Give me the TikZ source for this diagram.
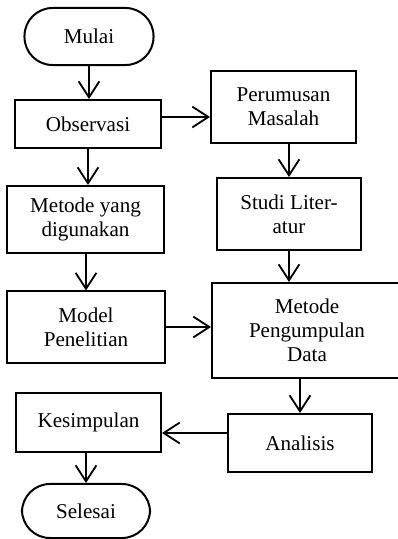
\documentclass[tikz,border=0pt]{standalone}
\usepackage{fontspec}
\setmainfont{Liberation Serif}
\usetikzlibrary{arrows.meta}

\begin{document}
\begin{tikzpicture}[x=0.025cm, y=-0.025cm, line width=0.05cm,
  >={Straight Barb[length=0.4cm,width=0.52cm,line width=1.3pt]},
  box/.style={draw, rectangle, inner sep=0pt, align=center,
    font=\fontsize{15}{17}\selectfont},
  term/.style={box, rounded corners=0.7cm}]

\clip (0,0) rectangle (398,539);

\node[term, minimum width=3.225cm, minimum height=1.425cm] (mulai) at (89,36.5) {Mulai};
\node[box, minimum width=3.625cm, minimum height=1.2cm] (obs) at (88,124) {Observasi};
\node[box, minimum width=3.625cm, minimum height=1.8cm] (rumus) at (283.5,107) {Perumusan\\Masalah};
\node[box, minimum width=3.6cm, minimum height=1.8cm] (studi) at (289,214) {Studi Liter-\\atur};
\node[box, minimum width=3.925cm, minimum height=1.675cm] (metode) at (85.5,219.5) {Metode yang\\digunakan};
\node[box, minimum width=3.95cm, minimum height=1.775cm] (model) at (86,327) {Model\\Penelitian};
\node[box, minimum width=4.75cm, minimum height=2.375cm] (kumpul) at (307,330.5) {Metode\\Pengumpulan\\Data};
\node[box, minimum width=3.6cm, minimum height=1.45cm] (analisis) at (300,443) {Analisis};
\node[box, minimum width=3.625cm, minimum height=1.475cm] (simpul) at (88.5,422.5) {Kesimpulan};
\node[term, minimum width=3.2cm, minimum height=1.35cm] (selesai) at (86,511) {Selesai};

\draw[->] (mulai.south) -- (mulai.south |- obs.north);
\draw[->] ([yshift=0.175cm]obs.east) -- ([yshift=0.175cm]obs.east -| rumus.west);
\draw[->] (obs.south) -- (obs.south |- metode.north);
\draw[->] (studi.north |- rumus.south) -- (studi.north);
\draw[->] (metode.south -| model.north) -- (model.north);
\draw[->] (studi.south) -- (studi.south |- kumpul.north);
\draw[->] (model.east) -- (model.east -| kumpul.west);
\draw[->] (analisis.north |- kumpul.south) -- (analisis.north);
\draw[->] ([yshift=0.25cm]analisis.west) -- ([yshift=0.25cm]analisis.west -| simpul.east);
\draw[->] (selesai.north |- simpul.south) -- (selesai.north);

\end{tikzpicture}
\end{document}
